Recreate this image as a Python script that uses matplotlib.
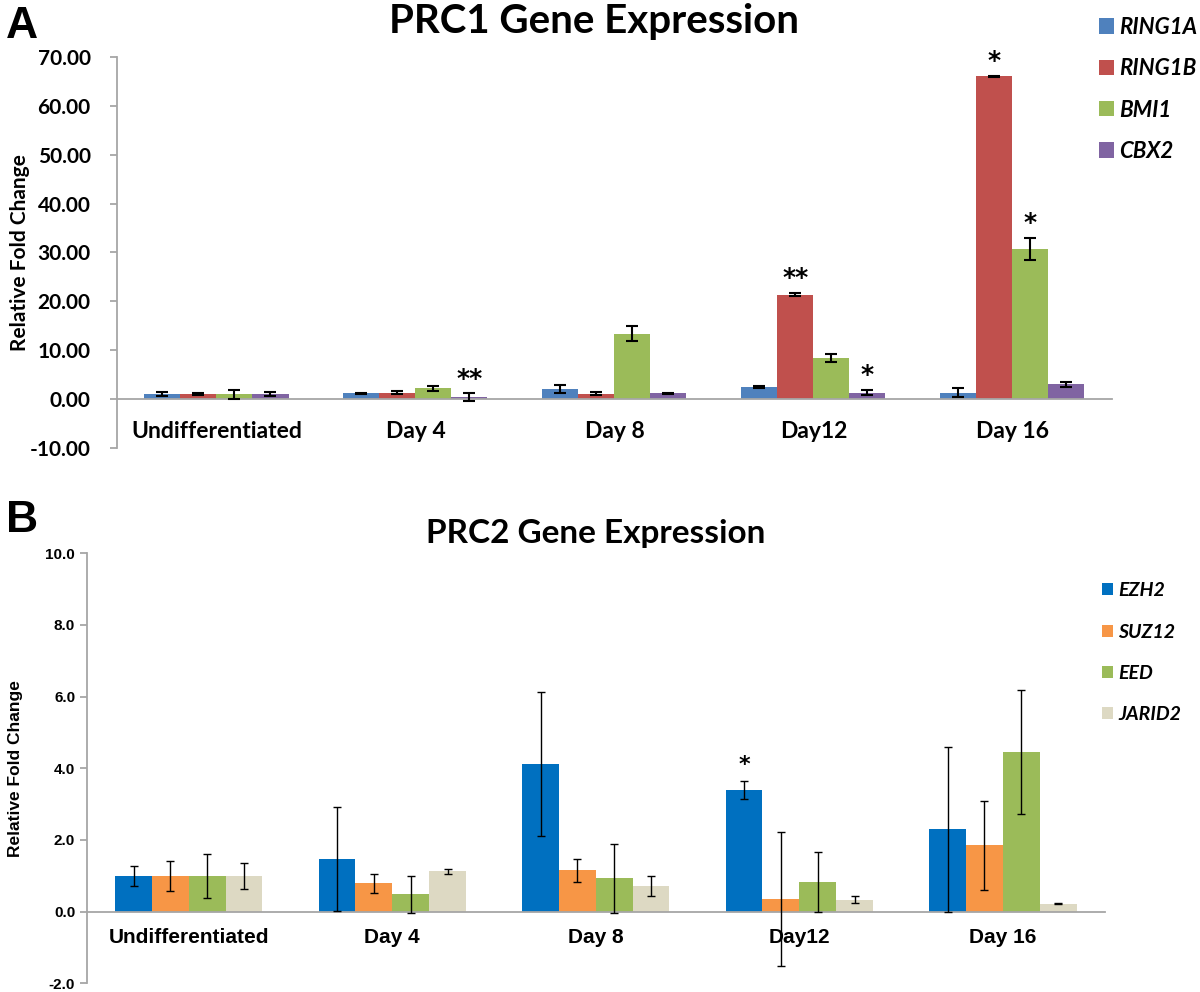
import numpy as np
import matplotlib
matplotlib.use("Agg")
import matplotlib.pyplot as plt

# categories
days = ["Undifferentiated", "Day 4", "Day 8", "Day12", "Day 16"]

# panel A - PRC1
prc1_genes = ["RING1A", "RING1B", "BMI1", "CBX2"]
ring1a = [1.0, 1.2, 2.05, 2.5, 1.35]
ring1a_err = [0.45, 0.1, 0.8, 0.2, 0.85]
ring1b = [1.0, 1.35, 1.1, 21.4, 66.0]
ring1b_err = [0.2, 0.4, 0.35, 0.4, 0.2]
bmi1 = [1.0, 2.2, 13.4, 8.4, 30.7]
bmi1_err = [0.9, 0.55, 1.5, 0.8, 2.25]
cbx2 = [1.0, 0.35, 1.15, 1.35, 3.0]
cbx2_err = [0.4, 0.8, 0.1, 0.6, 0.5]
# (day index, gene index, mark)
prc1_stars = [(1, 3, "**"), (3, 1, "**"), (3, 3, "*"), (4, 1, "*"), (4, 2, "*")]

# panel B - PRC2
prc2_genes = ["EZH2", "SUZ12", "EED", "JARID2"]
ezh2 = [1.0, 1.48, 4.11, 3.4, 2.3]
ezh2_err = [0.28, 1.45, 2.01, 0.25, 2.3]
suz12 = [1.0, 0.79, 1.15, 0.36, 1.85]
suz12_err = [0.42, 0.26, 0.32, 1.87, 1.25]
eed = [1.0, 0.48, 0.93, 0.83, 4.45]
eed_err = [0.62, 0.52, 0.97, 0.84, 1.73]
jarid2 = [1.0, 1.12, 0.71, 0.33, 0.22]
jarid2_err = [0.37, 0.08, 0.28, 0.1, 0.02]
prc2_stars = [(3, 0, "*")]

colors_a = ["#4F81BD", "#C0504D", "#9BBB59", "#8064A2"]
colors_b = ["#0070C0", "#F79646", "#9BBB59", "#DDD9C3"]

W = 0.181
x = np.arange(len(days))
offsets = (np.arange(4) - 1.5) * W

fig = plt.figure(figsize=(12, 9.92), dpi=100)

def panel(ax, series, errs, genes, colors, capsize, elw):
    handles = []
    for k in range(4):
        b = ax.bar(x + offsets[k], series[k], W, color=colors[k], label=genes[k], zorder=2)
        ax.errorbar(x + offsets[k], series[k], yerr=errs[k], fmt="none", ecolor="black",
                    elinewidth=elw, capsize=capsize, capthick=elw, zorder=3)
        handles.append(b)
    ax.set_xlim(-0.5, len(days) - 0.5)
    for s in ["top", "right"]:
        ax.spines[s].set_visible(False)
    ax.spines["left"].set_color("#A6A6A6")
    ax.spines["left"].set_linewidth(1.3)
    ax.spines["bottom"].set_position(("data", 0))
    ax.spines["bottom"].set_color("#A6A6A6")
    ax.spines["bottom"].set_linewidth(1.3)
    ax.tick_params(axis="y", direction="out", length=5, color="#A6A6A6", width=1.3)
    ax.tick_params(axis="x", length=0)
    ax.set_xticks(x)
    return handles

# ---------------- Panel A ----------------
axA = fig.add_axes([0.0975, 0.5484, 0.829, 0.3942])
hA = panel(axA, [ring1a, ring1b, bmi1, cbx2], [ring1a_err, ring1b_err, bmi1_err, cbx2_err],
           prc1_genes, colors_a, 4, 1.5)
axA.set_ylim(-10, 70)
axA.set_yticks(np.arange(-10, 71, 10))
axA.set_yticklabels([f"{v:.2f}" for v in np.arange(-10, 71, 10)],
                    fontfamily="Lato", fontweight="bold", fontsize=15)
axA.tick_params(axis="y", pad=14)
axA.set_xticklabels(days, fontfamily="Lato", fontweight="bold", fontsize=16.5)
axA.tick_params(axis="x", pad=16)
axA.set_ylabel("Relative Fold Change", fontfamily="Lato", fontweight="bold", fontsize=15, labelpad=0)
valsA = [ring1a, ring1b, bmi1, cbx2]
errsA = [ring1a_err, ring1b_err, bmi1_err, cbx2_err]
for d, g, mark in prc1_stars:
    axA.text(x[d] + offsets[g], valsA[g][d] + errsA[g][d] + 3.0, mark, ha="center", va="center",
             fontsize=18, fontweight="bold", fontfamily="DejaVu Sans", clip_on=False)
fig.text(0.495, 0.978, "PRC1 Gene Expression", ha="center", va="center",
         fontfamily="Lato", fontweight="bold", fontsize=29)
fig.text(0.005, 0.973, "A", ha="left", va="center", fontfamily="Liberation Sans",
         fontweight="bold", fontsize=32)
fig.legend(handles=hA, labels=prc1_genes, loc="upper left", bbox_to_anchor=(0.916, 0.983),
           frameon=False, borderpad=0, borderaxespad=0, handlelength=0.68, handleheight=0.68,
           handletextpad=0.2, labelspacing=0.915,
           prop={"family": "Lato", "weight": "bold", "style": "italic", "size": 16})

# ---------------- Panel B ----------------
axB = fig.add_axes([0.0725, 0.0088, 0.848, 0.4334])
hB = panel(axB, [ezh2, suz12, eed, jarid2], [ezh2_err, suz12_err, eed_err, jarid2_err],
           prc2_genes, colors_b, 3, 1.0)
axB.set_ylim(-2, 10)
axB.set_yticks(np.arange(-2, 11, 2))
axB.set_yticklabels([f"{v:.1f}" for v in np.arange(-2, 11, 2)],
                    fontfamily="Liberation Sans", fontweight="bold", fontsize=11)
axB.set_xticklabels(days, fontfamily="Liberation Sans", fontweight="bold", fontsize=15)
axB.tick_params(axis="x", pad=12)
axB.set_ylabel("Relative Fold Change", fontfamily="Liberation Sans", fontweight="bold",
               fontsize=12.5, labelpad=16)
valsB = [ezh2, suz12, eed, jarid2]
errsB = [ezh2_err, suz12_err, eed_err, jarid2_err]
for d, g, mark in prc2_stars:
    axB.text(x[d] + offsets[g], valsB[g][d] + errsB[g][d] + 0.45, mark, ha="center", va="center",
             fontsize=16, fontweight="bold", fontfamily="DejaVu Sans")
fig.text(0.496, 0.462, "PRC2 Gene Expression", ha="center", va="center",
         fontfamily="Lato", fontweight="bold", fontsize=24)
fig.text(0.005, 0.475, "B", ha="left", va="center", fontfamily="Liberation Sans",
         fontweight="bold", fontsize=32)
fig.legend(handles=hB, labels=prc2_genes, loc="upper left", bbox_to_anchor=(0.918, 0.413),
           frameon=False, borderpad=0, borderaxespad=0, handlelength=0.57, handleheight=0.57,
           handletextpad=0.3, labelspacing=1.25,
           prop={"family": "Lato", "weight": "bold", "style": "italic", "size": 14})

fig.savefig("out.png", dpi=100)
